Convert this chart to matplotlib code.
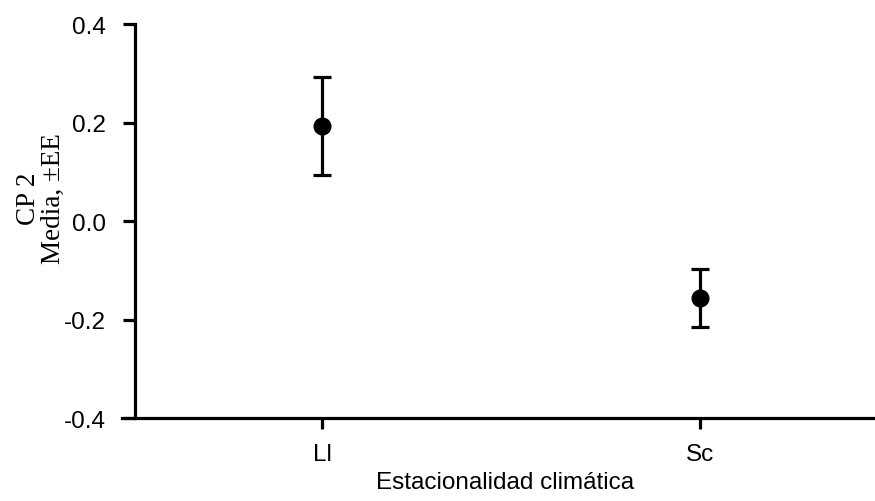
import matplotlib
matplotlib.use("Agg")
import matplotlib.pyplot as plt

categories = ["Ll", "Sc"]
means = [0.193, -0.157]
se = [0.099, 0.059]

fig = plt.figure(figsize=(8.75, 5.02), dpi=100)
ax = fig.add_axes([0.1543, 0.1653, 0.8457, 0.7847])

x = range(len(categories))
ax.errorbar(x, means, yerr=se, fmt="o", color="black", markersize=12,
            elinewidth=2.3, capsize=6.5, capthick=2.3)

ax.set_xlim(-0.495, 1.463)
ax.set_ylim(-0.4, 0.4)
ax.set_yticks([-0.4, -0.2, 0.0, 0.2, 0.4])
ax.set_yticklabels(["-0.4", "-0.2", "0.0", "0.2", "0.4"])
ax.set_xticks(list(x))
ax.set_xticklabels(categories)

for side in ["top", "right"]:
    ax.spines[side].set_visible(False)
for side in ["left", "bottom"]:
    ax.spines[side].set_linewidth(2.3)
ax.spines["bottom"].set_bounds(-0.53, 1.463)

ax.tick_params(axis="y", length=9, width=2.3, labelsize=17.5, pad=12,
               labelfontfamily="Liberation Sans")
ax.tick_params(axis="x", length=8, width=2.3, labelsize=17.5, pad=10,
               labelfontfamily="Liberation Sans")

ax.set_xlabel("Estacionalidad climática", fontsize=17.5, family="Liberation Sans",
              labelpad=4)
ax.set_ylabel("CP 2\nMedia, ±EE", fontsize=19.5, family="Liberation Serif",
              linespacing=1.0)
ax.yaxis.set_label_coords(-0.093, 0.56)

fig.savefig("out.png", dpi=100)
